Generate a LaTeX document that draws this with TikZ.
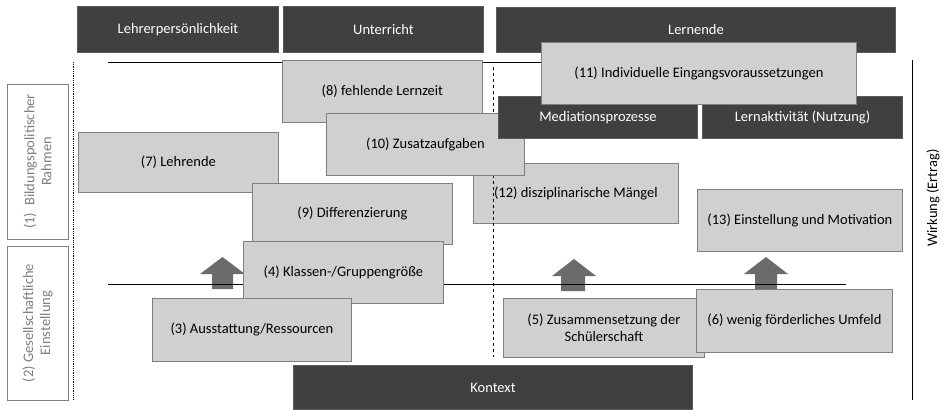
\documentclass[tikz,border=0pt]{standalone}
\usepackage{fontspec}
\setmainfont{Carlito}
\definecolor{darkfill}{HTML}{404040}
\definecolor{darkline}{HTML}{5A5A5A}
\definecolor{lightfill}{HTML}{D0D0D0}
\definecolor{lightline}{HTML}{7F7F7F}
\definecolor{arrowfill}{HTML}{6B6B6B}
\newcommand{\txt}{\fontsize{14.5}{17}\selectfont}

\begin{document}
\begin{tikzpicture}[x=1pt,y=-1pt,
   darkbox/.style={fill=darkfill,draw=darkline,line width=1pt,text=white,
     anchor=north west,inner sep=0pt,font=\txt},
   lbox/.style={fill=lightfill,draw=lightline,line width=0.8pt,
     anchor=north west,inner sep=0pt,font=\txt,align=center},
   sidebox/.style={fill=white,draw=lightline,line width=0.8pt,inner sep=0pt,
     font=\txt,text=lightline,align=center,rotate=90},
   blockarrow/.style={fill=arrowfill,draw=none}]
   \useasboundingbox (0,0) rectangle (946,410);
   % headings
   \node[darkbox,minimum width=201pt,minimum height=46pt] (lehrer) at (77,6) {Lehrerpersönlichkeit};
   \node[darkbox,minimum width=200pt,minimum height=46pt] (unterricht) at (283,6) {Unterricht};
   \node[darkbox,minimum width=399pt,minimum height=45pt] (lernende) at (496,7) {Lernende};
   \node[darkbox,minimum width=399pt,minimum height=44pt] (kontext) at (293,365) {Kontext};
   % frame lines
   \coordinate (topl) at (108,62);   \coordinate (topr) at (600,62);
   \coordinate (midl) at (108,284);  \coordinate (midr) at (846,284);
   \coordinate (dotA) at (73,62);    \coordinate (dotB) at (73,399);
   \coordinate (wirkA) at (912,60);  \coordinate (wirkB) at (912,400);
   \coordinate (dashA) at (493,67);  \coordinate (dashB) at (493,357);
   \draw[line width=0.8pt] (topl) -- (topr);
   \draw[line width=0.8pt,densely dotted] (dotA) -- (dotB);
   \draw[line width=0.8pt] (wirkA) -- (wirkB);
   \node[rotate=90,font=\txt] (wirkung) at (933,198) {Wirkung (Ertrag)};
   % side boxes
   \node[sidebox,minimum width=155pt,minimum height=61pt] (rahmen) at (37.5,161.5)
     {(1)\enspace Bildungspolitischer\\Rahmen};
   \node[sidebox,minimum width=154pt,minimum height=61pt] (einst) at (37.5,323)
     {(2) Gesellschaftliche\\Einstellung};
   % up arrows
   \filldraw[blockarrow] (212,289) -- (212,274) -- (200,274) -- (222.5,257)
     -- (245,274) -- (233,274) -- (233,289) -- cycle;
   \filldraw[blockarrow] (561,291) -- (561,276) -- (552,276) -- (574,259)
     -- (596,276) -- (585,276) -- (585,291) -- cycle;
   \filldraw[blockarrow] (755,291) -- (755,274) -- (744,274) -- (766,257)
     -- (788,274) -- (777,274) -- (777,291) -- cycle;
   \draw[line width=0.8pt] (midl) -- (midr);
   % factors
   \node[lbox,minimum width=200pt,minimum height=62pt] (n8) at (282,60) {(8) fehlende Lernzeit};
   \node[lbox,minimum width=200pt,minimum height=60pt] (n7) at (78,132) {(7) Lehrende};
   \node[lbox,minimum width=205pt,minimum height=60pt] (n12) at (473,163) {(12) disziplinarische Mängel};
   \draw[line width=0.8pt,dashed] (dashA) -- (dashB);
   \node[lbox,minimum width=198pt,minimum height=62pt] (n10) at (326,113) {(10) Zusatzaufgaben};
   \node[darkbox,minimum width=199pt,minimum height=42pt] (mediation) at (498,96) {Mediationsprozesse};
   \node[darkbox,minimum width=200pt,minimum height=42pt] (aktiv) at (702,96) {Lernaktivität (Nutzung)};
   \node[lbox,minimum width=315pt,minimum height=62pt] (n11) at (541,42) {(11) Individuelle Eingangsvoraussetzungen};
   \node[lbox,minimum width=200pt,minimum height=61pt] (n9) at (252,183) {(9) Differenzierung};
   \node[lbox,minimum width=200pt,minimum height=62pt] (n4) at (243,241) {(4) Klassen-/Gruppengröße};
   \node[lbox,minimum width=199pt,minimum height=63pt] (n3) at (152,298) {(3) Ausstattung/Ressourcen};
   \node[lbox,minimum width=205pt,minimum height=62pt] (n13) at (697,189) {(13) Einstellung und Motivation};
   \node[lbox,minimum width=201pt,minimum height=59pt] (n5) at (503,298) {(5) Zusammensetzung der\\Schülerschaft};
   \node[lbox,minimum width=196pt,minimum height=63pt] (n6) at (696,289) {(6) wenig förderliches Umfeld};
\end{tikzpicture}
\end{document}
